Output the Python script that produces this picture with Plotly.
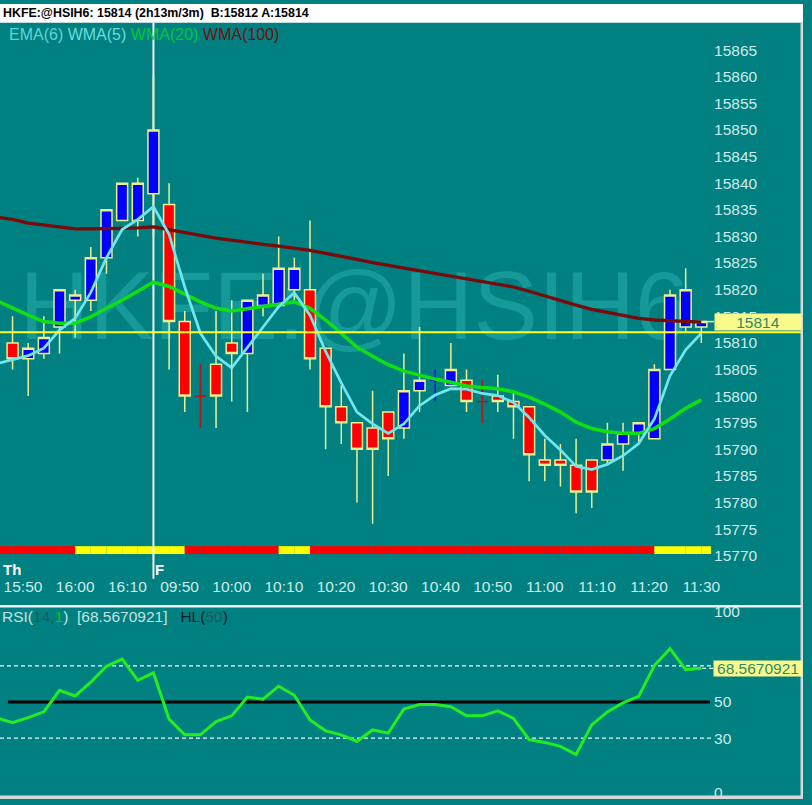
import plotly.graph_objects as go

W, H = 812, 805
FONT = "Liberation Sans, Arial, sans-serif"
TEAL = "#008080"
PALE = "#cfeaea"

# ---------------- data ----------------
symbol = "HKFE:@HSIH6"
last_price = 15814
bid = 15812
ask = 15814
span_text = "2h13m/3m"

bar_days = ["Th"] * 9 + ["F"] * 36
bar_times = ["15:48", "15:51", "15:54", "15:57", "16:00", "16:03", "16:06", "16:09", "16:12",
             "09:45", "09:48", "09:51", "09:54", "09:57", "10:00", "10:03", "10:06", "10:09",
             "10:12", "10:15", "10:18", "10:21", "10:24", "10:27", "10:30", "10:33", "10:36",
             "10:39", "10:42", "10:45", "10:48", "10:51", "10:54", "10:57", "11:00", "11:03",
             "11:06", "11:09", "11:12", "11:15", "11:18", "11:21", "11:24", "11:27", "11:30"]

opens = [15810, 15807, 15808, 15813, 15818, 15818, 15826, 15833, 15833, 15838,
         15836, 15814, 15800, 15806, 15810, 15808, 15817, 15817, 15820, 15820,
         15809, 15798, 15795, 15794, 15797, 15794, 15801, 15803, 15802, 15803,
         15799, 15800, 15799, 15798, 15788, 15788, 15787, 15788, 15788, 15791,
         15793, 15792, 15805, 15813, 15813]
highs = [15815, 15810, 15815, 15820, 15820, 15828, 15835, 15840, 15841, 15860,
         15840, 15816, 15806, 15816, 15818, 15818, 15823, 15830, 15826, 15833,
         15809, 15802, 15795, 15801, 15797, 15808, 15813, 15805, 15810, 15805,
         15803, 15804, 15801, 15798, 15792, 15791, 15792, 15788, 15795, 15795,
         15795, 15806, 15820, 15824, 15814]
lows = [15805, 15800, 15807, 15808, 15811, 15816, 15823, 15833, 15830, 15830,
        15805, 15797, 15794, 15794, 15799, 15797, 15815, 15817, 15818, 15805,
        15790, 15791, 15780, 15776, 15785, 15792, 15797, 15799, 15802, 15797,
        15795, 15797, 15792, 15784, 15784, 15783, 15778, 15779, 15787, 15786,
        15791, 15792, 15805, 15812, 15810]
closes = [15807, 15809, 15811, 15820, 15819, 15826, 15835, 15840, 15840, 15850,
          15814, 15800, 15800, 15800, 15808, 15818, 15819, 15824, 15824, 15807,
          15798, 15795, 15790, 15790, 15792, 15801, 15803, 15803, 15805, 15799,
          15799, 15799, 15798, 15789, 15787, 15787, 15782, 15782, 15791, 15793,
          15795, 15805, 15819, 15820, 15814]
doji_up = [27]  # doji bars painted blue (others dark red)

# indicator series start one bar before the first visible candle (index -1)
ind_idx = list(range(-1, 45))
wma5 = [15806.1, 15806.9, 15807.6, 15809.0, 15812.4, 15814.6, 15819.5, 15826.0, 15831.3, 15833.2,
        15835.6, 15830.4, 15820.5, 15811.8, 15807.5, 15805.3, 15809.1, 15813.0, 15816.8, 15819.4,
        15815.2, 15808.4, 15802.5, 15797.0, 15794.8, 15793.0, 15794.8, 15798.2, 15800.2, 15801.4,
        15801.3, 15800.5, 15800.1, 15798.8, 15796.0, 15792.6, 15789.9, 15786.8, 15786.2, 15787.2,
        15788.8, 15791.1, 15795.7, 15803.8, 15808.7, 15811.8]
wma20 = [15817.9, 15816.5, 15815.2, 15814.0, 15813.7, 15813.7, 15814.9, 15816.5, 15818.0, 15819.7,
         15821.4, 15820.6, 15819.2, 15817.7, 15816.5, 15816.0, 15816.4, 15816.8, 15817.3, 15817.7,
         15816.5, 15814.3, 15811.8, 15809.2, 15807.5, 15805.9, 15804.7, 15803.9, 15803.2, 15802.6,
         15801.9, 15801.6, 15801.4, 15800.8, 15799.8, 15798.5, 15797.0, 15795.1, 15793.9, 15793.3,
         15793.0, 15793.0, 15793.9, 15795.7, 15797.7, 15799.3]
wma100 = [15833.6, 15833.2, 15832.5, 15832.1, 15831.7, 15831.4, 15831.4, 15831.4, 15831.5, 15831.6,
          15831.8, 15831.3, 15830.7, 15830.2, 15829.7, 15829.3, 15828.8, 15828.5, 15828.2, 15827.8,
          15827.4, 15826.8, 15826.3, 15825.7, 15825.1, 15824.6, 15824.0, 15823.6, 15823.1, 15822.6,
          15822.1, 15821.5, 15821.1, 15820.5, 15819.7, 15818.8, 15817.9, 15817.1, 15816.3, 15815.7,
          15815.1, 15814.6, 15814.3, 15814.2, 15814.1, 15813.9]
rsi = [41.1, 38.5, 41.3, 44.5, 56.4, 53.3, 60.9, 69.7, 73.7, 61.9,
       66.1, 40.5, 31.8, 31.8, 39.1, 42.3, 52.7, 51.5, 58.7, 53.7,
       40.0, 34.0, 31.8, 28.1, 34.5, 32.7, 46.0, 48.6, 48.6, 47.3,
       42.3, 42.3, 45.1, 40.9, 29.1, 27.6, 25.4, 20.9, 37.3, 44.5,
       49.5, 53.1, 70.1, 79.5, 67.9, 68.5670921]
trend_state = ["R"] * 5 + ["Y"] * 7 + ["R"] * 6 + ["Y"] * 2 + ["R"] * 22 + ["Y"] * 4

x_ticks = [("Th", "15:50"), ("Th", "16:00"), ("Th", "16:10"), ("F", "09:50"), ("F", "10:00"),
           ("F", "10:10"), ("F", "10:20"), ("F", "10:30"), ("F", "10:40"), ("F", "10:50"),
           ("F", "11:00"), ("F", "11:10"), ("F", "11:20"), ("F", "11:30")]
price_ticks = list(range(15770, 15866, 5))
rsi_ticks = [0, 30, 50, 100]
rsi_levels = [30, 70]
rsi_hl = 50

# ---------------- geometry helpers ----------------
def fx(px):
    return px / W

def fy(py):
    return 1 - py / H

def tmin(s):
    h, m = s.split(":")
    return int(h) * 60 + int(m)

step = tmin(bar_times[1]) - tmin(bar_times[0])
tick_pos = []
for day, t in x_ticks:
    first = bar_days.index(day)
    tick_pos.append(first + (tmin(t) - tmin(bar_times[first])) / step)

session_start = bar_days.index("F")

X_RANGE = [-0.802, 44.62]
X_DOM = [0, fx(719)]
Y1_DOM = [fy(565), fy(19)]
Y1_RANGE = [15768.84, 15870.14]
Y2_DOM = [fy(801), fy(611)]
Y2_RANGE = [-1.53, 102.30]

idx = list(range(len(opens)))
normal = [i for i in idx if opens[i] != closes[i]]
doji_red = [i for i in idx if opens[i] == closes[i] and i not in doji_up]
doji_blue = [i for i in idx if opens[i] == closes[i] and i in doji_up]

WICK = "#eef090"

def candles(sel, inc_fill, dec_fill, inc_line, dec_line, lw):
    return go.Candlestick(
        x=sel, open=[opens[i] for i in sel], high=[highs[i] for i in sel],
        low=[lows[i] for i in sel], close=[closes[i] for i in sel],
        increasing=dict(fillcolor=inc_fill, line=dict(color=inc_line, width=lw)),
        decreasing=dict(fillcolor=dec_fill, line=dict(color=dec_line, width=lw)),
        whiskerwidth=0, hoverinfo="skip", xaxis="x", yaxis="y", showlegend=False)

fig = go.Figure()

# trend strip (bar trace on the price axis)
fig.add_trace(go.Bar(
    x=ind_idx, y=[1.48] * len(ind_idx), base=15770.33, width=1, offset=0,
    marker=dict(color=["#ff0000" if s == "R" else "#ffff00" for s in trend_state], line=dict(width=0)),
    hoverinfo="skip", xaxis="x", yaxis="y", showlegend=False))

fig.add_trace(candles(normal, "#0000ff", "#ff0000", WICK, WICK, 1.5))
fig.add_trace(candles(doji_red, "#b01818", "#b01818", "#b01818", "#b01818", 1.6))
fig.add_trace(candles(doji_blue, "#1818f0", "#1818f0", "#1818f0", "#1818f0", 1.6))

fig.add_trace(go.Scatter(x=ind_idx, y=wma100, mode="lines", line=dict(color="#7a0a0a", width=3.3),
                         hoverinfo="skip", xaxis="x", yaxis="y", showlegend=False))
fig.add_trace(go.Scatter(x=ind_idx, y=wma20, mode="lines", line=dict(color="#10e010", width=3.5),
                         hoverinfo="skip", xaxis="x", yaxis="y", showlegend=False))
fig.add_trace(go.Scatter(x=ind_idx, y=wma5, mode="lines", line=dict(color="#72e6f0", width=2.7),
                         hoverinfo="skip", xaxis="x", yaxis="y", showlegend=False))

fig.add_trace(go.Scatter(x=ind_idx, y=rsi, mode="lines", line=dict(color="#22ee22", width=3),
                         hoverinfo="skip", xaxis="x2", yaxis="y2", showlegend=False))

shapes = []
# watermark
shapes.append(dict(type="rect", xref="paper", yref="paper", x0=0, x1=fx(716), y0=fy(335), y1=fy(257),
                   line=dict(width=0), fillcolor="rgba(0,0,0,0)", layer="below",
                   label=dict(text=symbol, textposition="middle center",
                              font=dict(size=97, color="#169999", family=FONT))))
# session divider
shapes.append(dict(type="line", xref="x", yref="paper", x0=session_start, x1=session_start,
                   y0=fy(549), y1=fy(19), line=dict(color="#f4f4f4", width=2), layer="below"))
shapes.append(dict(type="line", xref="x", yref="paper", x0=session_start, x1=session_start,
                   y0=fy(582), y1=fy(549), line=dict(color="#f4f4f4", width=2), layer="above"))
# bid line
shapes.append(dict(type="line", xref="paper", yref="y", x0=0, x1=1, y0=bid, y1=bid,
                   line=dict(color="#ffff22", width=2), layer="above"))
# connector to last-price label
shapes.append(dict(type="line", xref="paper", yref="y", x0=fx(710), x1=fx(722), y0=last_price, y1=last_price,
                   line=dict(color="#f0f090", width=1.5), layer="above"))
# RSI reference lines
for lv in rsi_levels:
    shapes.append(dict(type="line", xref="x2", yref="y2", x0=X_RANGE[0], x1=X_RANGE[1], y0=lv, y1=lv,
                       line=dict(color="#e8f8f8", width=1.2, dash="4px,3px"), layer="below"))
shapes.append(dict(type="line", xref="paper", yref="y2", x0=fx(710), x1=fx(721), y0=rsi[-1], y1=rsi[-1],
                   line=dict(color="#e8f8f8", width=1.2, dash="4px,3px"), layer="above"))
shapes.append(dict(type="line", xref="paper", yref="y2", x0=fx(8), x1=fx(718), y0=rsi_hl, y1=rsi_hl,
                   line=dict(color="#000000", width=3), layer="below"))
# panel divider, title bar, borders
shapes.append(dict(type="rect", xref="paper", yref="paper", x0=0, x1=1, y0=fy(611), y1=fy(608.5),
                   line=dict(width=0), fillcolor="#f4f4f4", layer="above"))
shapes.append(dict(type="rect", xref="paper", yref="paper", x0=0, x1=1, y0=fy(19), y1=1,
                   line=dict(width=0), fillcolor="#ffffff", layer="above"))
shapes.append(dict(type="rect", xref="paper", yref="paper", x0=fx(809.5), x1=1, y0=0, y1=fy(19),
                   line=dict(width=0), fillcolor="#d8d8d8", layer="above"))
shapes.append(dict(type="rect", xref="paper", yref="paper", x0=0, x1=1, y0=0, y1=fy(801.5),
                   line=dict(width=0), fillcolor="#d8d8d8", layer="above"))

NB = "\u00a0"
annotations = []
annotations.append(dict(
    text=f"<b>{symbol}: {last_price} ({span_text}){NB}{NB}B:{bid} A:{ask}</b>",
    xref="paper", yref="paper", x=fx(1), y=fy(9), xanchor="left", yanchor="middle",
    showarrow=False, font=dict(family=FONT, size=12.4, color="#000000")))
annotations.append(dict(
    text=("<span style='color:#5ad8d8'>EMA(6)</span> <span style='color:#68dede'>WMA(5)</span> "
          "<span style='color:#00c83c'>WMA(20)</span> <span style='color:#6a1010'>WMA(100)</span>"),
    xref="paper", yref="paper", x=fx(7), y=fy(31), xanchor="left", yanchor="middle",
    showarrow=False, font=dict(family=FONT, size=16)))
annotations.append(dict(
    text=(f"<span style='color:#c6e2e2'>RSI(</span><span style='color:#1e5a5a'>14,</span>"
          f"<span style='color:#12c012'>1</span><span style='color:#c6e2e2'>){NB}{NB}[{rsi[-1]:.7f}]{NB}{NB}{NB}</span>"
          f"<span style='color:#052020'>HL(</span><span style='color:#1e5a5a'>{rsi_hl}</span>"
          f"<span style='color:#052020'>)</span>"),
    xref="paper", yref="paper", x=fx(0), y=fy(620), xanchor="left", yanchor="middle",
    showarrow=False, font=dict(family=FONT, size=15.5)))
annotations.append(dict(
    text=f"{last_price}", xref="paper", yref="y", x=fx(722), y=last_price, xanchor="left", yanchor="middle",
    width=86, height=16, bgcolor="#fafa8a", borderpad=0, showarrow=False,
    font=dict(family=FONT, size=15.5, color="#2e8a6c")))
annotations.append(dict(
    text=f"{rsi[-1]:.7f}", xref="paper", yref="y2", x=fx(721), y=rsi[-1], xanchor="left", yanchor="middle",
    width=88, height=15, bgcolor="#fafa8a", borderpad=0, showarrow=False,
    font=dict(family=FONT, size=15.5, color="#2e8a6c")))
annotations.append(dict(
    text="<b>Th</b>", xref="paper", yref="paper", x=fx(1), y=fy(573), xanchor="left", yanchor="middle",
    showarrow=False, font=dict(family=FONT, size=15, color="#ffffff")))
annotations.append(dict(
    text="<b>F</b>", xref="x", yref="paper", x=session_start, y=fy(573), xanchor="left", yanchor="middle",
    xshift=0, showarrow=False, font=dict(family=FONT, size=15, color="#ffffff")))

axis_font = dict(family=FONT, size=15.5, color=PALE)
fig.update_layout(
    autosize=True, margin=dict(l=0, r=0, t=0, b=0),
    paper_bgcolor=TEAL, plot_bgcolor=TEAL, showlegend=False, hovermode=False,
    boxgap=0.3, boxgroupgap=0, barmode="overlay",
    xaxis=dict(domain=X_DOM, range=X_RANGE, anchor="y", tickvals=tick_pos,
               ticktext=[t for _, t in x_ticks], tickfont=axis_font, ticks="",
               showgrid=False, zeroline=False, showline=False, ticklabelstandoff=14,
               rangeslider=dict(visible=False), fixedrange=True),
    yaxis=dict(domain=Y1_DOM, range=Y1_RANGE, anchor="x", side="right", tickvals=price_ticks,
               tickformat="d", tickfont=axis_font, ticks="", showgrid=False, zeroline=False,
               showline=False, ticklabelstandoff=2, fixedrange=True),
    xaxis2=dict(domain=X_DOM, range=X_RANGE, anchor="y2", visible=False,
                rangeslider=dict(visible=False), fixedrange=True),
    yaxis2=dict(domain=Y2_DOM, range=Y2_RANGE, anchor="x2", side="right", tickvals=rsi_ticks,
                tickformat="d", tickfont=axis_font, ticks="", showgrid=False, zeroline=False,
                showline=False, ticklabelstandoff=2, fixedrange=True),
    shapes=shapes, annotations=annotations,
)

# the figure div is pinned to the top-left corner of the window at exactly W x H
fig.write_html(
    "out.html",
    config={"displayModeBar": False, "responsive": False},
    default_width=f"{W}px",
    default_height=f"{H}px; position:fixed; left:0; top:0; margin:0",
    post_script="document.body.style.margin='0';document.body.style.overflow='hidden';",
)
